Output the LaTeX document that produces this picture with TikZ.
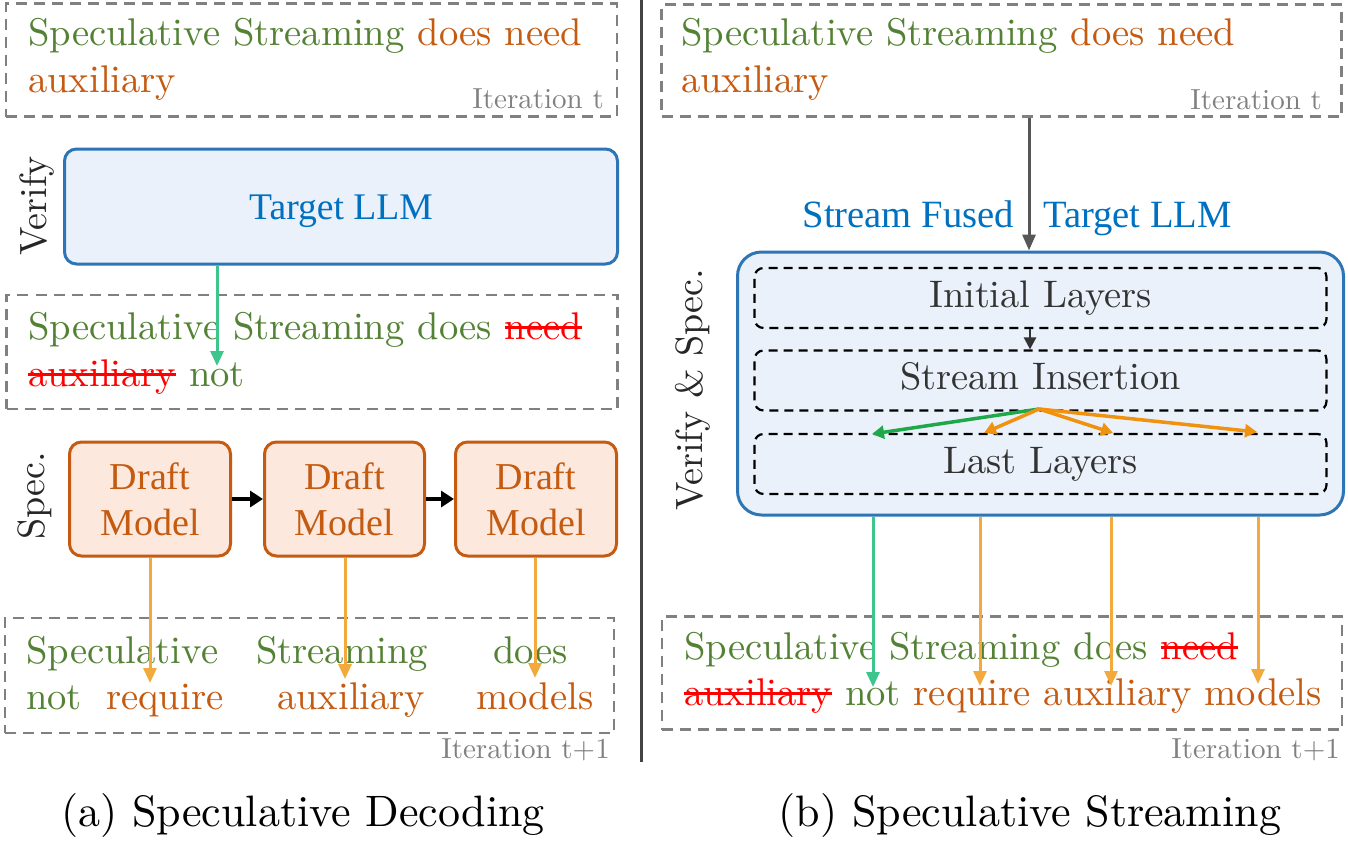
\documentclass[tikz,border=0pt]{standalone}
\usepackage{fontspec}
\setmainfont{lmroman10-regular.otf}
\newfontfamily\tms{Liberation Serif}
\usetikzlibrary{arrows.meta}
\definecolor{tgreen}{HTML}{548235}
\definecolor{torange}{HTML}{C55A11}
\definecolor{dgray}{HTML}{808080}
\definecolor{tblue}{HTML}{0070C0}
\definecolor{bblue}{HTML}{2E75B6}
\definecolor{fblue}{HTML}{EAF1FA}
\definecolor{forange}{HTML}{FCE8DC}
\definecolor{aorange}{HTML}{F2AA3C}
\definecolor{agreen}{HTML}{3CC68C}
\definecolor{fgreen}{HTML}{1EA84A}
\definecolor{forg}{HTML}{F0920E}
\definecolor{txgray}{HTML}{333333}
\definecolor{divgray}{HTML}{444444}
\newcommand\strk[1]{\setbox0\hbox{#1}\rlap{\rule[0.26em]{\wd0}{0.065em}}\box0\relax}
\newcommand\mf{\fontsize{38.6}{46}\selectfont}
\begin{document}
\begin{tikzpicture}[x=1pt,y=-1pt,
  txt/.style={anchor=base west,inner sep=0pt,font=\mf},
  itx/.style={anchor=base east,inner sep=0pt,font=\fontsize{29}{34}\selectfont,text=dgray},
  captxt/.style={anchor=base,inner sep=0pt,font=\fontsize{44}{50}\selectfont},
  sidelbl/.style={rotate=90,inner sep=0pt,font=\fontsize{38}{44}\selectfont,text=black!85},
  dbox/.style={draw=dgray,line width=2.6pt,dash pattern=on 11pt off 7pt,inner sep=0pt},
  tbox/.style={draw=bblue,fill=fblue,line width=3pt,rounded corners=12pt,inner sep=0pt,text=tblue,font=\tms\fontsize{37.6}{44}\selectfont},
  dmodel/.style={draw=torange,fill=forange,line width=3pt,rounded corners=12pt,inner sep=0pt,text=torange,align=center,font=\tms\fontsize{38}{46}\selectfont,minimum width=161,minimum height=114},
  lyr/.style={draw=black,line width=2.2pt,dash pattern=on 9pt off 6pt,rounded corners=9pt,inner sep=0pt,minimum width=572,minimum height=60,text=txgray,font=\fontsize{38.4}{44}\selectfont,text height=26pt,text depth=8pt},
  oarr/.style={draw=aorange,line width=3pt,-{Triangle[width=13pt,length=15pt]}},
  garr/.style={draw=agreen,line width=3pt,-{Triangle[width=13pt,length=15pt]}},
  karr/.style={draw=black,line width=4.5pt,-{Triangle[width=16pt,length=13pt]}},
  farr/.style={line width=3.5pt,-{Triangle[width=13pt,length=12pt]}}
]
\useasboundingbox (0,0) rectangle (1348,841);
\fill[white] (0,0) rectangle (1348,841);

% ---------------- left panel ----------------
\node[dbox,minimum width=611,minimum height=113] (lb1) at (311.5,60) {};
\node[txt] (lb1a) at (28,45) {\color{tgreen}Speculative Streaming \color{torange}does need};
\node[txt] (lb1b) at (28,92) {\color{torange}auxiliary};
\node[itx] (lb1c) at (604,108) {Iteration t};

\node[sidelbl] (verify) at (37,206) {Verify};
\node[tbox,minimum width=553,minimum height=115,text height=26pt,text depth=0pt] (tllm) at (341,206.5) {Target LLM};

\node[dbox,minimum width=611,minimum height=114] (lb2) at (312,352) {};
\node[txt] (lb2a) at (28,339) {\color{tgreen}Speculative Streaming does \color{red}\strk{need}};
\node[txt] (lb2b) at (28,386) {\color{red}\strk{auxiliary} \color{tgreen}not};
\coordinate (gtip) at (217,366);
\draw[garr] (tllm.south -| gtip) -- (gtip);

\node[sidelbl] (spec) at (35,496) {Spec.};
\node[dmodel] (d1) at (150,499) {Draft\\Model};
\node[dmodel,minimum width=160] (d2) at (344.5,499) {Draft\\Model};
\node[dmodel] (d3) at (536,499) {Draft\\Model};
\draw[karr] (d1.east) -- (d2.west);
\draw[karr] (d2.east) -- (d3.west);

\node[dbox,minimum width=609,minimum height=115] (lb3) at (309.5,675.5) {};
\node[txt] (w1) at (26,663) {\color{tgreen}Speculative};
\node[txt] (w2) at (256,663) {\color{tgreen}Streaming};
\node[txt] (w3) at (493,663) {\color{tgreen}does};
\node[txt] (w4) at (26,709) {\color{tgreen}not};
\node[txt] (w5) at (106,709) {\color{torange}require};
\node[txt] (w6) at (277,709) {\color{torange}auxiliary};
\node[txt] (w7) at (476,709) {\color{torange}models};
\node[itx] (lb3c) at (610,758) {Iteration t+1};
\coordinate (o1) at (150,683);
\coordinate (o2) at (345,679);
\coordinate (o3) at (535,678);
\draw[oarr] (d1.south -| o1) -- (o1);
\draw[oarr] (d2.south -| o2) -- (o2);
\draw[oarr] (d3.south -| o3) -- (o3);

\node[captxt] (capa) at (303,826) {(a) Speculative Decoding};

% divider
\draw[divgray,line width=3pt] (641,0) -- (641,762);

% ---------------- right panel ----------------
\node[dbox,minimum width=680,minimum height=112] (rb1) at (1001.5,60.5) {};
\node[txt] (rb1a) at (681,45) {\color{tgreen}Speculative Streaming \color{torange}does need};
\node[txt] (rb1b) at (681,92) {\color{torange}auxiliary};
\node[itx] (rb1c) at (1322,109) {Iteration t};

\node[anchor=base east,inner sep=0pt,text=tblue,font=\tms\fontsize{38.6}{44}\selectfont] (sf) at (1014,227) {Stream Fused};
\node[anchor=base west,inner sep=0pt,text=tblue,font=\tms\fontsize{38.6}{44}\selectfont] (tl) at (1043,227) {Target LLM};

\node[draw=bblue,fill=fblue,line width=3pt,rounded corners=24pt,minimum width=606,minimum height=263,inner sep=0pt] (big) at (1040.5,383.5) {};
\draw[divgray!90,line width=3pt,-{Triangle[width=13pt,length=16pt]}] (rb1.south -| 1029,0) -- (big.north -| 1029,0);

\node[sidelbl] (vs) at (693,390) {Verify \& Spec.};

\node[lyr] (init) at (1040.5,298) {Initial Layers};
\node[lyr] (sins) at (1040.5,380.5) {Stream Insertion};
\node[lyr] (last) at (1040.5,464) {Last Layers};
\draw[txgray,line width=2.5pt,-{Triangle[width=12pt,length=12pt]}] (init.south -| 1030,0) -- (sins.north -| 1030,0);

\coordinate (fo) at (1039,409);
\coordinate (f1) at (872,434);
\coordinate (f2) at (984,433);
\coordinate (f3) at (1113,433);
\coordinate (f4) at (1257,432);
\draw[farr,draw=fgreen] (fo) -- (f1);
\draw[farr,draw=forg] (fo) -- (f2);
\draw[farr,draw=forg] (fo) -- (f3);
\draw[farr,draw=forg] (fo) -- (f4);

\node[dbox,minimum width=680,minimum height=113] (rb2) at (1002,673) {};
\node[txt] (rb2a) at (684,659) {\color{tgreen}Speculative Streaming does \color{red}\strk{need}};
\node[txt] (rb2b) at (684,705) {\color{red}\strk{auxiliary} \color{tgreen}not \color{torange}require auxiliary models};
\node[itx] (rb2c) at (1340,758) {Iteration t+1};
\coordinate (r1) at (873,687);
\coordinate (r2) at (980,686);
\coordinate (r3) at (1111,686);
\coordinate (r4) at (1258,684);
\draw[garr] (big.south -| r1) -- (r1);
\draw[oarr] (big.south -| r2) -- (r2);
\draw[oarr] (big.south -| r3) -- (r3);
\draw[oarr] (big.south -| r4) -- (r4);

\node[captxt] (capb) at (1030,826) {(b) Speculative Streaming};
\end{tikzpicture}
\end{document}
